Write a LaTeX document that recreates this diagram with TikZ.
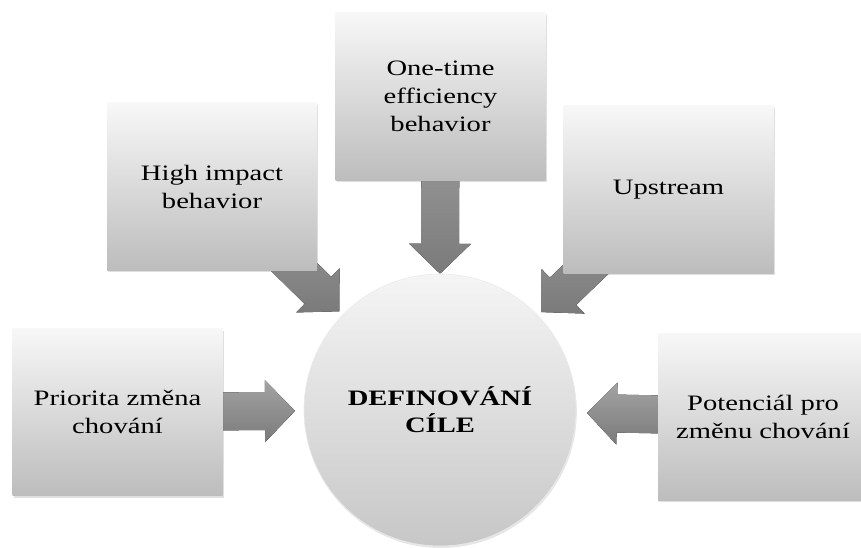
\documentclass[tikz,border=0pt]{standalone}
\usepackage{fontspec}
\setmainfont[FakeStretch=1.3]{Liberation Serif}
\usetikzlibrary{calc,shadows,backgrounds}

\tikzset{
  card/.style={rectangle, minimum width=210pt, minimum height=167pt,
    inner sep=0pt, align=center,
    top color=black!3, bottom color=black!26,
    drop shadow={shadow xshift=1.2pt, shadow yshift=-2.2pt, opacity=0.25},
    font=\fontsize{22}{28}\selectfont},
  hub/.style={circle, minimum size=272pt, inner sep=0pt, align=center,
    top color=black!4, bottom color=black!22, draw=black!8, line width=0.6pt,
    drop shadow={shadow xshift=0.8pt, shadow yshift=-2pt, opacity=0.2},
    font=\bfseries\fontsize{22}{27}\selectfont},
  blockarrow/.style={top color=black!36, bottom color=black!52, draw=none}
}

% block arrow from #1 (tail, hidden behind a card) to #2 (tip)
\newcommand\blockarr[2]{%
  \coordinate (hb) at ($(#2)!30pt!(#1)$);
  \fill[blockarrow] ($(#1)!19pt!90:(#2)$) -- ($(hb)!19pt!90:(#2)$)
    -- ($(hb)!31pt!90:(#2)$) -- (#2) -- ($(hb)!31pt!-90:(#2)$)
    -- ($(hb)!19pt!-90:(#2)$) -- ($(#1)!19pt!-90:(#2)$) -- cycle;}

\begin{document}
\begin{tikzpicture}[x=1pt, y=-1pt]
  \useasboundingbox (0,0) rectangle (861,548);
  \clip (0,0) rectangle (861,548);

  % goal in the middle
  \node[hub] (hub) at (440,410) {DEFINOVÁNÍ\\CÍLE};

  % the five criteria
  \node[card] (prio) at (117.5,412)  {Priorita změna\\chování};
  \node[card] (high) at (212,186.5)  {High impact\\behavior};
  \node[card] (once) at (440.5,96.5) {One-time\\efficiency\\behavior};
  \node[card] (up)   at (668.5,189.5) {Upstream};
  \node[card] (pot)  at (763,416.5)  {Potenciál pro\\změnu chování};

  % arrows pointing at the goal, tips computed from the hub
  \coordinate (tprio) at ($(hub.center)!145pt!(prio.center)$);
  \coordinate (thigh) at ($(hub.center)!141pt!(high.center)$);
  \coordinate (tonce) at (hub.north);
  \coordinate (tup)   at ($(hub.center)!141pt!(up.center)$);
  \coordinate (tpot)  at ($(hub.center)!147pt!(pot.center)$);

  \begin{scope}[on background layer]
    \blockarr{prio.center}{tprio}
    \blockarr{high.center}{thigh}
    \blockarr{once.center}{tonce}
    \blockarr{up.center}{tup}
    \blockarr{pot.center}{tpot}
  \end{scope}
\end{tikzpicture}
\end{document}
